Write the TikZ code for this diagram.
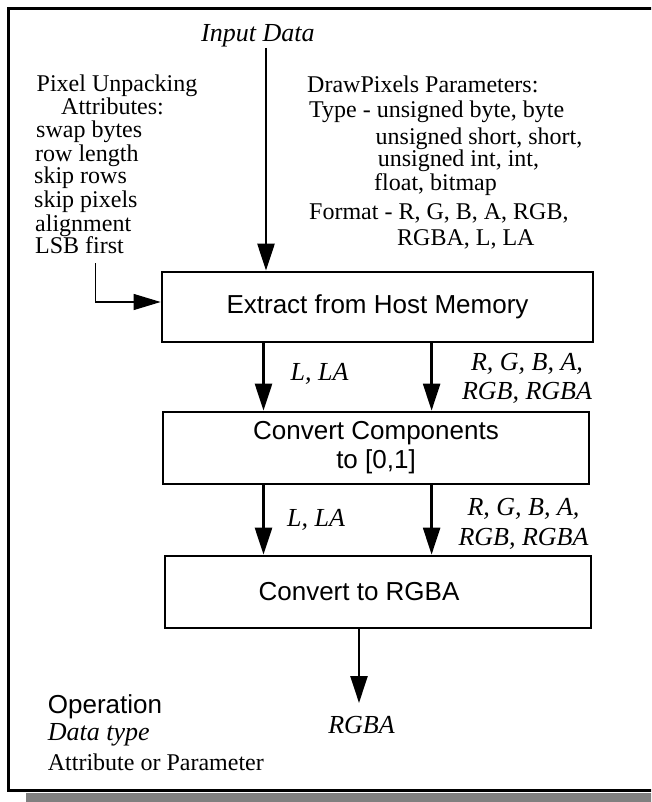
\documentclass[tikz,border=0pt]{standalone}
\usepackage{fontspec}
\setmainfont{Liberation Serif}
\setsansfont{Liberation Sans}
\usetikzlibrary{arrows.meta}

\begin{document}
\begin{tikzpicture}[x=1pt,y=-1pt,
  txt/.style={inner sep=0pt,anchor=base west,font=\fontsize{24}{23}\selectfont},
  dtype/.style={inner sep=0pt,anchor=base west,font=\fontsize{26}{29}\itshape\selectfont},
  opbox/.style={draw,line width=2.7pt,rectangle,inner sep=0pt,align=center,
    font=\fontsize{26}{29}\sffamily\selectfont},
  flow/.style={line width=2.5pt,-{Triangle[length=27pt,width=17pt]}},
  feed/.style={line width=1.2pt,-{Triangle[length=27pt,width=16pt]}}]
\useasboundingbox (0,0) rectangle (651,802);
\clip (0,0) rectangle (651,802);

% frame (its right side runs past the page edge) with drop shadow
\fill[black!50] (26,793) rectangle (660,805);
\draw[line width=2.5pt] (660,8.7) -- (8.3,8.7) -- (8.3,790.5) -- (660,790.5);

% input
\node[dtype] (input) at (201,42) {Input Data};

% pixel unpacking attributes
\node[txt] (pu1) at (36.5,92) {Pixel Unpacking};
\node[txt] (pu2) at (61,115) {Attributes:};
\node[txt] (pu3) at (36,138) {swap bytes};
\node[txt] (pu4) at (35,161.5) {row length};
\node[txt] (pu5) at (34,183.5) {skip rows};
\node[txt] (pu6) at (34,207.5) {skip pixels};
\node[txt] (pu7) at (35,231) {alignment};
\node[txt] (pu8) at (35,253.5) {LSB first};

% DrawPixels parameters
\node[txt] (dp1) at (307,93) {DrawPixels Parameters:};
\node[txt] (dp2) at (309,118) {Type - unsigned byte, byte};
\node[txt] (dp3) at (375.5,145) {unsigned short, short,};
\node[txt] (dp4) at (377.6,167) {unsigned int, int,};
\node[txt] (dp5) at (374,191) {float, bitmap};
\node[txt] (dp6) at (309,220) {Format - R, G, B, A, RGB,};
\node[txt] (dp7) at (397,245) {RGBA, L, LA};

% operations
\node[opbox,minimum width=431pt,minimum height=70pt] (box1) at (377.5,307) {Extract from Host Memory};
\node[opbox,minimum width=426pt,minimum height=72pt] (box2) at (376,448) {Convert Components\\to [0,1]};
\node[opbox,minimum width=426pt,minimum height=72pt] (box3) at (378,592) {Convert to RGBA\hspace*{38pt}};

% arrow columns
\coordinate (inA) at (266,48);
\coordinate (colL) at (263.5,0);
\coordinate (colR) at (431.6,0);
\coordinate (attrEnd) at (95.5,263);
\coordinate (feedY) at (0,302);
\coordinate (outTip) at (359,703);

\draw[flow] (inA) -- (inA |- box1.north);
\draw[feed] (attrEnd) |- (box1.west |- feedY);

\draw[flow] (box1.south -| colL) -- (box2.north -| colL);
\draw[flow] (box1.south -| colR) -- (box2.north -| colR);
\draw[flow] (box2.south -| colL) -- (box3.north -| colL);
\draw[flow] (box2.south -| colR) -- (box3.north -| colR);
\draw[flow] (box3.south -| outTip) -- (outTip);

% data type labels
\node[dtype] (l1) at (290.5,380) {L, LA};
\node[dtype,anchor=base] (r1a) at (527,370) {R, G, B, A,};
\node[dtype,anchor=base] (r1b) at (527,399) {RGB, RGBA};
\node[dtype] (l2) at (287,526) {L, LA};
\node[dtype,anchor=base] (r2a) at (523.5,515) {R, G, B, A,};
\node[dtype,anchor=base] (r2b) at (523.5,545) {RGB, RGBA};
\node[dtype,anchor=base] (outlbl) at (361.5,733) {RGBA};

% legend
\node[inner sep=0pt,anchor=base west,font=\fontsize{26}{29}\sffamily\selectfont] (lgop) at (47.7,713) {Operation};
\node[dtype] (lgdt) at (47.7,740) {Data type};
\node[txt] (lgat) at (47.7,770) {Attribute or Parameter};
\end{tikzpicture}
\end{document}
